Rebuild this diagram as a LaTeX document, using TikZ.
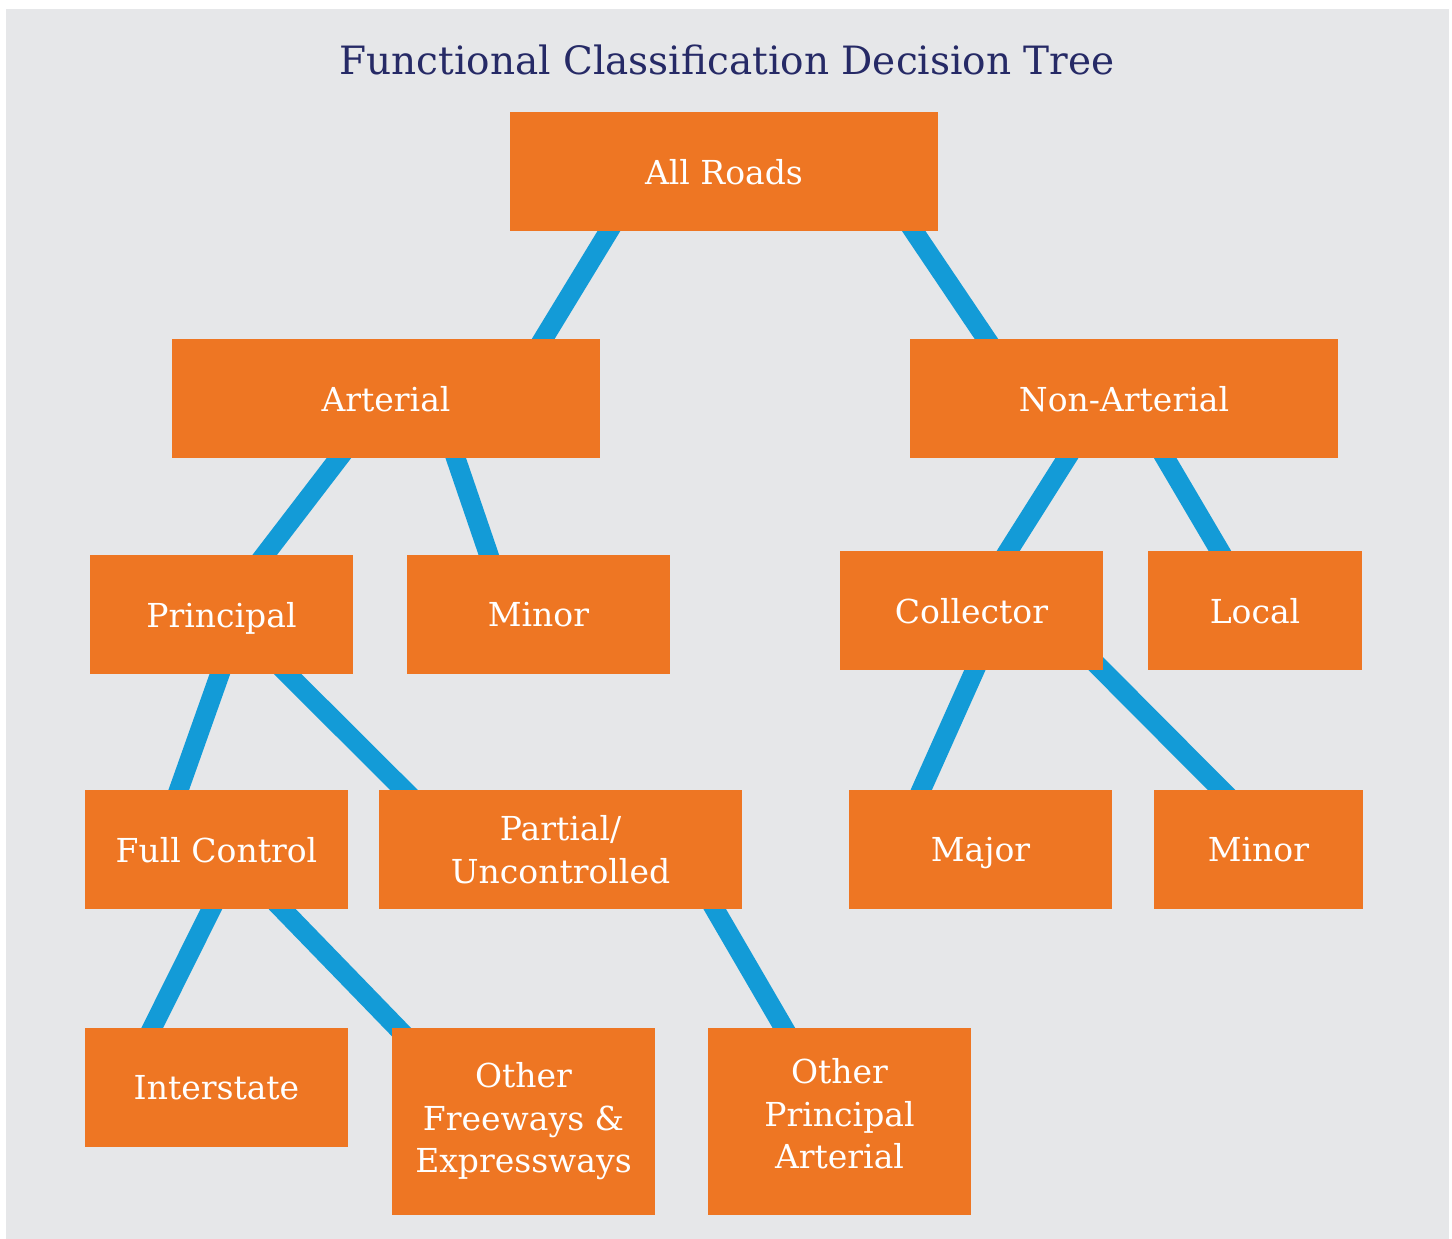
\documentclass[tikz,border=0pt]{standalone}
\usepackage{fontspec}
\setmainfont{DejaVu Serif}
\pgfdeclarelayer{background}
\pgfsetlayers{background,main}
\definecolor{bggray}{HTML}{E6E7E9}
\definecolor{boxorange}{HTML}{EE7623}
\definecolor{linkblue}{HTML}{139BD7}
\definecolor{titlenavy}{HTML}{262A66}
\tikzset{
  box/.style={fill=boxorange, text=white, inner sep=0pt, align=center,
    font=\fontsize{33}{42.5}\selectfont},
  onebox/.style={box, text depth=0pt},
  conn/.style={draw=linkblue, line width=19.5pt, line cap=butt,
    shorten <=-14pt, shorten >=-14pt},
}
\begin{document}
\begin{tikzpicture}[x=1pt,y=-1pt]
\useasboundingbox (0,0) rectangle (1452,1239);
\begin{pgfonlayer}{background}
\fill[white] (0,0) rectangle (1452,1239);
\fill[bggray] (6,9) rectangle (1449,1239);
\end{pgfonlayer}

\node[font=\fontsize{39}{44}\selectfont, text=titlenavy, text depth=0pt] (title) at (727,60) {Functional Classification Decision Tree};

\node[onebox, minimum width=428pt, minimum height=119pt] (allroads) at (724,171.5) {All Roads};
\node[onebox, minimum width=428pt, minimum height=119pt] (arterial) at (386,398.5) {Arterial};
\node[onebox, minimum width=428pt, minimum height=119pt] (nonart) at (1124,398.5) {Non-Arterial};
\node[onebox, minimum width=263pt, minimum height=119pt] (principal) at (221.5,614.5) {Principal};
\node[onebox, minimum width=263pt, minimum height=119pt] (minorA) at (538.5,614.5) {Minor};
\node[onebox, minimum width=263pt, minimum height=119pt] (collector) at (971.5,610.5) {Collector};
\node[onebox, minimum width=214pt, minimum height=119pt] (local) at (1255,610.5) {Local};
\node[onebox, minimum width=263pt, minimum height=119pt] (fullctrl) at (216.5,849.5) {Full Control};
\node[box, minimum width=363pt, minimum height=119pt] (partial) at (560.5,849.5) {Partial/\\Uncontrolled};
\node[onebox, minimum width=263pt, minimum height=119pt] (major) at (980.5,849.5) {Major};
\node[onebox, minimum width=209pt, minimum height=119pt] (minorC) at (1258.5,849.5) {Minor};
\node[onebox, minimum width=263pt, minimum height=119pt] (interstate) at (216.5,1087.5) {Interstate};
\node[box, minimum width=263pt, minimum height=187pt] (otherfree) at (523.5,1121.5) {Other\\Freeways \&\\Expressways};
\node[box, minimum width=263pt, minimum height=187pt] (otherprin) at (839.5,1121.5) {Other\\Principal\\Arterial\rule[-16pt]{0pt}{16pt}};

\begin{pgfonlayer}{background}
\draw[conn] ([xshift=99pt]allroads.south west) -- ([xshift=371.5pt]arterial.north west);
\draw[conn] ([xshift=404pt]allroads.south west) -- ([xshift=76.5pt]nonart.north west);
\draw[conn] ([xshift=167pt]arterial.south west) -- ([xshift=175pt]principal.north west);
\draw[conn] ([xshift=284pt]arterial.south west) -- ([xshift=82pt]minorA.north west);
\draw[conn] ([xshift=157pt]nonart.south west) -- ([xshift=168.5pt]collector.north west);
\draw[conn] ([xshift=255.5pt]nonart.south west) -- ([xshift=72pt]local.north west);
\draw[conn] ([xshift=130pt]principal.south west) -- ([xshift=94pt]fullctrl.north west);
\draw[conn] ([xshift=198pt]principal.south west) -- ([xshift=25pt]partial.north west);
\draw[conn] ([xshift=135pt]collector.south west) -- ([xshift=72.5pt]major.north west);
\draw[conn] ([xshift=262.5pt]collector.south west) -- ([xshift=67.5pt]minorC.north west);
\draw[conn] ([xshift=126.5pt]fullctrl.south west) -- ([xshift=67.5pt]interstate.north west);
\draw[conn] ([xshift=197.5pt]fullctrl.south west) -- ([xshift=5.5pt]otherfree.north west);
\draw[conn] ([xshift=336pt]partial.south west) -- ([xshift=76pt]otherprin.north west);
\end{pgfonlayer}
\end{tikzpicture}
\end{document}
